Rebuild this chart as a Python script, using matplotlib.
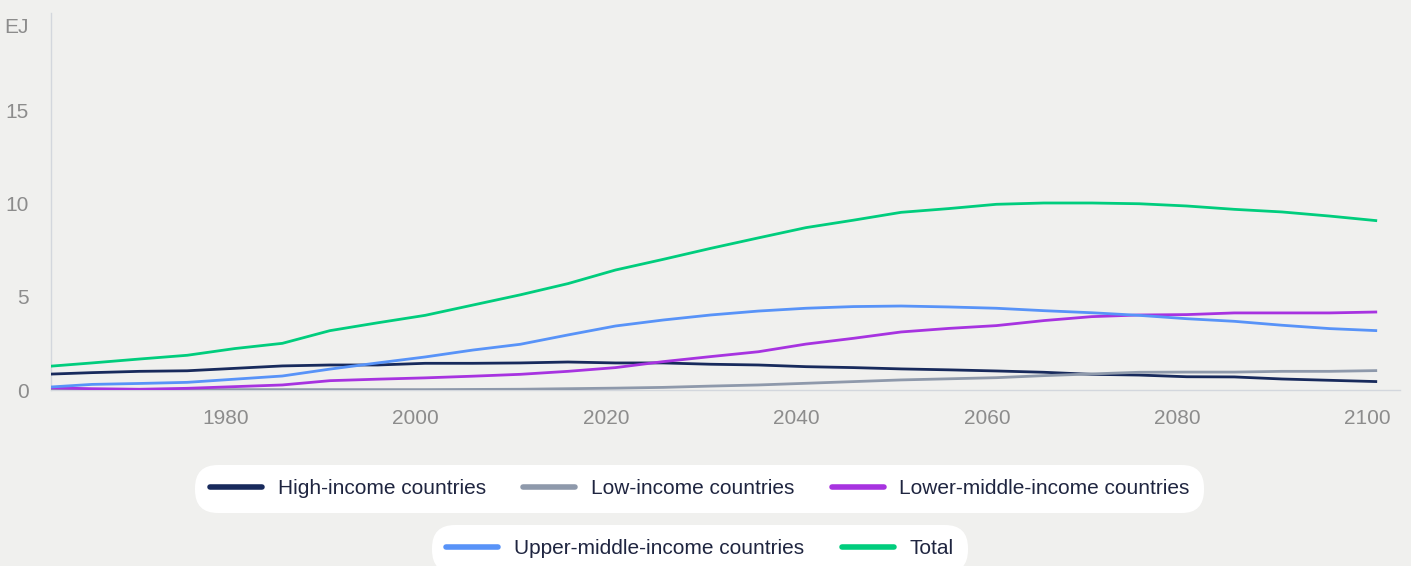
# Energy use by income group, 1961-2101 (EJ)

import matplotlib.pyplot as plt
from matplotlib.lines import Line2D

years = [1961, 1966, 1971, 1976, 1981, 1986, 1991, 1996, 2001, 2006,
         2011, 2016, 2021, 2026, 2031, 2036, 2041, 2046, 2051, 2056,
         2061, 2066, 2071, 2076, 2081, 2086, 2091, 2096, 2101]

high_income = [0.84, 0.93, 1.00, 1.03, 1.16, 1.29, 1.34, 1.34, 1.43, 1.43,
               1.45, 1.50, 1.45, 1.45, 1.38, 1.34, 1.25, 1.20, 1.13, 1.08,
               1.02, 0.95, 0.84, 0.80, 0.71, 0.70, 0.59, 0.52, 0.45]
low_income = [0.02, 0.02, 0.02, 0.02, 0.02, 0.02, 0.02, 0.02, 0.02, 0.03,
              0.04, 0.07, 0.10, 0.14, 0.21, 0.27, 0.36, 0.45, 0.54, 0.60,
              0.66, 0.77, 0.86, 0.95, 0.96, 0.96, 1.00, 1.00, 1.04]
lower_middle = [0.12, 0.07, 0.04, 0.09, 0.18, 0.27, 0.50, 0.58, 0.65, 0.74,
                0.84, 1.00, 1.20, 1.52, 1.79, 2.05, 2.46, 2.77, 3.11, 3.30,
                3.45, 3.72, 3.93, 4.02, 4.04, 4.13, 4.13, 4.13, 4.18]
upper_middle = [0.14, 0.30, 0.35, 0.41, 0.58, 0.75, 1.12, 1.45, 1.77, 2.14,
                2.45, 2.95, 3.43, 3.75, 4.02, 4.23, 4.38, 4.47, 4.50, 4.45,
                4.38, 4.25, 4.14, 4.00, 3.82, 3.68, 3.47, 3.29, 3.18]
total = [1.25, 1.45, 1.66, 1.86, 2.22, 2.50, 3.18, 3.60, 4.00, 4.55,
         5.10, 5.70, 6.43, 7.00, 7.59, 8.15, 8.70, 9.10, 9.52, 9.72,
         9.95, 10.02, 10.02, 9.98, 9.86, 9.68, 9.54, 9.32, 9.07]

series = [
    ("High-income countries", high_income, "#182a5c"),
    ("Low-income countries", low_income, "#8e99ab"),
    ("Lower-middle-income countries", lower_middle, "#a733e0"),
    ("Upper-middle-income countries", upper_middle, "#5893f8"),
    ("Total", total, "#00cd7d"),
]

x_ticks = [1980, 2000, 2020, 2040, 2060, 2080, 2100]
y_ticks = [0, 5, 10, 15]

BG = "#f0f0ee"
TICK_COLOR = "#8c8c8c"
TEXT_COLOR = "#1f2540"
SPINE_COLOR = "#d3d7dd"


def main():
    plt.rcParams["font.family"] = ["Liberation Sans", "DejaVu Sans"]

    fig = plt.figure(figsize=(14.11, 5.66), dpi=100, facecolor=BG)
    ax = fig.add_axes([51 / 1411, 1 - 390 / 566, (1400 - 51) / 1411, (390 - 13) / 566])
    ax.set_facecolor(BG)

    for name, values, color in series:
        ax.plot(years, values, color=color, lw=2.0, solid_capstyle="butt", zorder=3)

    ax.set_xlim(1961.7, 2103.4)
    ax.set_ylim(0, 20.2)
    ax.set_xticks(x_ticks)
    ax.set_yticks(y_ticks)
    ax.tick_params(axis="both", length=0, labelsize=15, labelcolor=TICK_COLOR)
    ax.tick_params(axis="x", pad=14)
    ax.tick_params(axis="y", pad=16)

    for side in ["top", "right"]:
        ax.spines[side].set_visible(False)
    for side in ["left", "bottom"]:
        ax.spines[side].set_color(SPINE_COLOR)
        ax.spines[side].set_linewidth(1.0)

    # unit label where the top tick would sit
    ax.annotate("EJ", xy=(0, 19.4), xycoords=("axes fraction", "data"),
                xytext=(-16, 0), textcoords="offset points",
                ha="right", va="center", fontsize=15, color=TICK_COLOR)

    handles = [Line2D([], [], color=c, lw=4, solid_capstyle="round") for _, _, c in series]
    labels = [n for n, _, _ in series]

    leg_kw = dict(ncol=3, frameon=True, facecolor="white", edgecolor="none",
                  framealpha=1, fontsize=15, labelcolor=TEXT_COLOR,
                  handlelength=2.5, handletextpad=0.75, columnspacing=1.8,
                  borderpad=0.7, loc="center")

    leg1 = fig.legend(handles[:3], labels[:3], bbox_to_anchor=(0.496, 1 - 489 / 566), **leg_kw)
    leg2 = fig.legend(handles[3:], labels[3:], bbox_to_anchor=(0.496, 1 - 549 / 566), **leg_kw)
    for leg in (leg1, leg2):
        leg.get_frame().set_boxstyle("round", pad=0, rounding_size=1.1)

    fig.savefig("out.png", dpi=100, facecolor=BG)
    plt.close(fig)


if __name__ == "__main__":
    main()
